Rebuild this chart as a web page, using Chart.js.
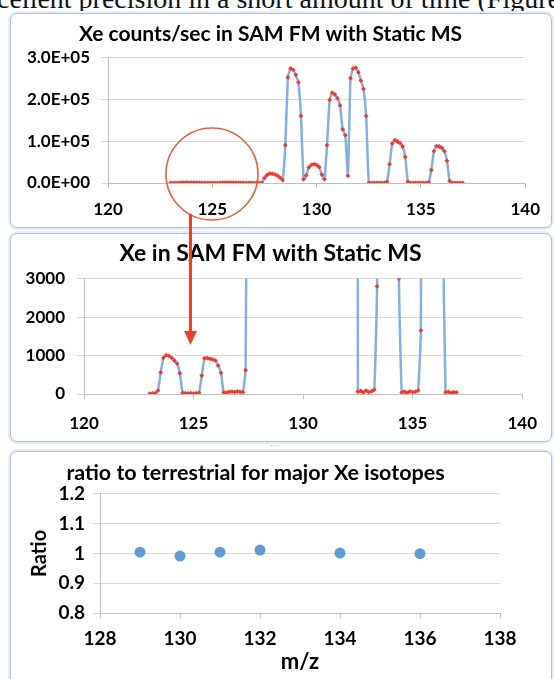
<!DOCTYPE html>
<html>
<head>
<meta charset="utf-8">
<script src="https://cdn.jsdelivr.net/npm/chart.js@4.4.0/dist/chart.umd.min.js"></script>
<style>
  body { margin: 0; width: 554px; height: 679px; overflow: hidden; background: #fff; position: relative; }
  .topline { position: absolute; left: -3px; top: -15px; font-family: "Liberation Serif", "DejaVu Serif", serif; font-size: 28px; line-height: 28px; white-space: nowrap; color: #111; }
  .panel { position: absolute; left: 10px; width: 540px; background: #fff; border: 1px solid #a9bfdc; border-radius: 7px; box-shadow: 0 0 0 2px #e6edf6; overflow: hidden; }
  .panel canvas { display: block; }
  .grip { position: absolute; left: 271px; font: 7px sans-serif; color: #9fb0c4; letter-spacing: 1px; }
  #anno { position: absolute; left: 0; top: 0; pointer-events: none; }
</style>
</head>
<body>
<div class="topline">cellent precision in a short amount of time (Figure 5</div>
<div class="panel" style="top:13px;height:213px"><canvas id="c1" width="540" height="211"></canvas></div>
<div class="panel" style="top:233px;height:207px"><canvas id="c2" width="540" height="205"></canvas></div>
<div class="panel" style="top:451px;height:240px"><canvas id="c3" width="540" height="238"></canvas></div>
<div class="grip" style="top:8px">''''</div>
<div class="grip" style="top:226px">''''</div>
<div class="grip" style="top:444px">''''</div>
<svg id="anno" width="554" height="679">
  <ellipse cx="212" cy="174" rx="46" ry="46" fill="none" stroke="#ee5a3c" stroke-width="1.6"/>
  <line x1="190.5" y1="214" x2="190.5" y2="334" stroke="#e8412c" stroke-width="3"/>
  <polygon points="184,331 197,331 190.5,345" fill="#e8412c"/>
</svg>

<script>
// m/z scan positions and Xe counts/sec
const mz = [
  123, 123.125, 123.25, 123.375, 123.5, 123.625, 123.75, 123.875,
  124, 124.125, 124.25, 124.375, 124.5, 124.625, 124.75, 124.875,
  125, 125.125, 125.25, 125.375, 125.5, 125.625, 125.75, 125.875,
  126, 126.125, 126.25, 126.375, 126.5, 126.625, 126.75, 126.875,
  127, 127.125, 127.25, 127.375, 127.5, 127.625, 127.75, 127.875,
  128, 128.125, 128.25, 128.375, 128.5, 128.625, 128.75, 128.875,
  129, 129.125, 129.25, 129.375, 129.5, 129.625, 129.75, 129.875,
  130, 130.125, 130.25, 130.375, 130.5, 130.625, 130.75, 130.875,
  131, 131.125, 131.25, 131.375, 131.5, 131.625, 131.75, 131.875,
  132, 132.125, 132.25, 132.375, 132.5, 132.625, 132.75, 132.875,
  133, 133.125, 133.25, 133.375, 133.5, 133.625, 133.75, 133.875,
  134, 134.125, 134.25, 134.375, 134.5, 134.625, 134.75, 134.875,
  135, 135.125, 135.25, 135.375, 135.5, 135.625, 135.75, 135.875,
  136, 136.125, 136.25, 136.375, 136.5, 136.625, 136.75, 136.875,
  137
];
const counts = [
  10, 15, 25, 90, 560, 940, 1010, 990,
  940, 870, 790, 540, 30, 20, 15, 25,
  10, 20, 30, 480, 930, 935, 915, 900,
  870, 740, 550, 40, 35, 55, 60, 50,
  65, 55, 45, 620, 12000, 19000, 22500, 22000,
  20500, 17500, 13000, 7000, 90000, 252000, 273000, 270000,
  258000, 240000, 160000, 9000, 18000, 37000, 43000, 45000,
  43000, 38000, 20000, 9000, 90000, 198000, 215000, 211000,
  202000, 185000, 128000, 114000, 17000, 250000, 273000, 275000,
  264000, 244000, 224000, 160000, 60, 80, 40, 90,
  50, 70, 110, 2800, 45000, 94000, 102000, 99000,
  95000, 87000, 62000, 3000, 40, 60, 30, 70,
  45, 60, 90, 1650, 31000, 76000, 88000, 87000,
  84000, 76000, 53000, 5000, 40, 60, 30, 50,
  40
];
const countTicks = ['0.0E+00', '1.0E+05', '2.0E+05', '3.0E+05'];

// isotope ratios to terrestrial
const isotopes = [129, 130, 131, 132, 134, 136];
const ratios = [1.004, 0.991, 1.004, 1.011, 1.001, 0.999];
const ratioTicks = ['0.8', '0.9', '1', '1.1', '1.2'];

const FONT = 'Lato, "Open Sans", sans-serif';
const GRID = '#d9d9d9';
const AXIS = '#bfbfbf';

const spectrum = mz.map((m, i) => ({ x: m, y: counts[i] }));
const ratioPts = isotopes.map((m, i) => ({ x: m, y: ratios[i] }));

function lineSet() {
    return {
        data: spectrum,
        borderColor: 'rgba(120,166,219,0.9)',
        borderWidth: 2.5,
        tension: 0.15,
        pointStyle: 'rectRot',
        pointRadius: 2.4,
        pointBackgroundColor: '#ef3b2c',
        pointBorderWidth: 0
    };
}

// builds options with fixed axis sizes so the plot area lands where the picture has it
function makeOptions(o) {
    return {
        responsive: false,
        animation: false,
        layout: { padding: { left: 0, right: o.right, top: 0, bottom: 0 } },
        plugins: {
            legend: { display: false },
            tooltip: { enabled: false },
            title: {
                display: true,
                text: o.title,
                color: '#000',
                font: { family: FONT, size: o.titleSize, weight: 'bold', lineHeight: 1.2 },
                padding: { top: o.titleTop, bottom: o.titleBottom }
            }
        },
        scales: {
            x: {
                type: 'linear',
                min: o.xmin, max: o.xmax,
                afterFit: s => { s.height = o.xHeight; },
                ticks: { stepSize: o.xstep, color: '#000', padding: o.xPad, font: { family: FONT, size: o.tickSize, weight: 'bold' } },
                grid: { drawOnChartArea: false, color: AXIS, tickLength: 5 },
                border: { color: AXIS },
                title: o.xTitle || { display: false }
            },
            y: {
                min: o.ymin, max: o.ymax,
                afterFit: s => { s.width = o.yWidth; },
                ticks: { stepSize: o.ystep, color: '#000', padding: o.yPad, font: { family: FONT, size: o.tickSize, weight: 'bold' }, callback: o.yLabel },
                grid: { color: GRID, tickLength: 7 },
                border: { color: AXIS },
                title: o.yTitle || { display: false }
            }
        }
    };
}

// top: full spectrum
new Chart(document.getElementById('c1'), {
    type: 'line',
    data: { datasets: [lineSet()] },
    options: makeOptions({
        title: 'Xe counts/sec in SAM FM with Static MS', titleSize: 21, titleTop: 8, titleBottom: 10,
        right: 21, xmin: 120, xmax: 140, xstep: 5, xHeight: 42, xPad: 11,
        ymin: 0, ymax: 300000, ystep: 100000, yWidth: 97, yPad: 11,
        tickSize: 17, yLabel: (v, i) => countTicks[i]
    })
});

// middle: same spectrum zoomed to the minor isotopes
new Chart(document.getElementById('c2'), {
    type: 'line',
    data: { datasets: [lineSet()] },
    options: makeOptions({
        title: 'Xe in SAM FM with Static MS', titleSize: 23, titleTop: 6, titleBottom: 11,
        right: 21, xmin: 120, xmax: 140, xstep: 5, xHeight: 45, xPad: 14,
        ymin: 0, ymax: 3000, ystep: 1000, yWidth: 73, yPad: 12,
        tickSize: 17
    })
});

// bottom: ratio to terrestrial
new Chart(document.getElementById('c3'), {
    type: 'scatter',
    data: {
        datasets: [{
            data: ratioPts,
            pointRadius: 5.5,
            backgroundColor: '#5f9cd6',
            borderWidth: 0
        }]
    },
    options: makeOptions({
        title: 'ratio to terrestrial for major Xe isotopes', titleSize: 21.5, titleTop: 8, titleBottom: 8,
        right: 51, xmin: 128, xmax: 138, xstep: 2, xHeight: 77, xPad: 9,
        ymin: 0.8, ymax: 1.2, ystep: 0.1, yWidth: 89, yPad: 8,
        tickSize: 19, yLabel: (v, i) => ratioTicks[i],
        xTitle: { display: true, text: 'm/z', color: '#000', font: { family: FONT, size: 22, weight: 'bold', lineHeight: 1.2 }, padding: { top: 4, bottom: 15 } },
        yTitle: { display: true, text: 'Ratio', color: '#000', font: { family: FONT, size: 20, weight: 'bold', lineHeight: 1.2 }, padding: { top: 17, bottom: 4 } }
    })
});
</script>
</body>
</html>
